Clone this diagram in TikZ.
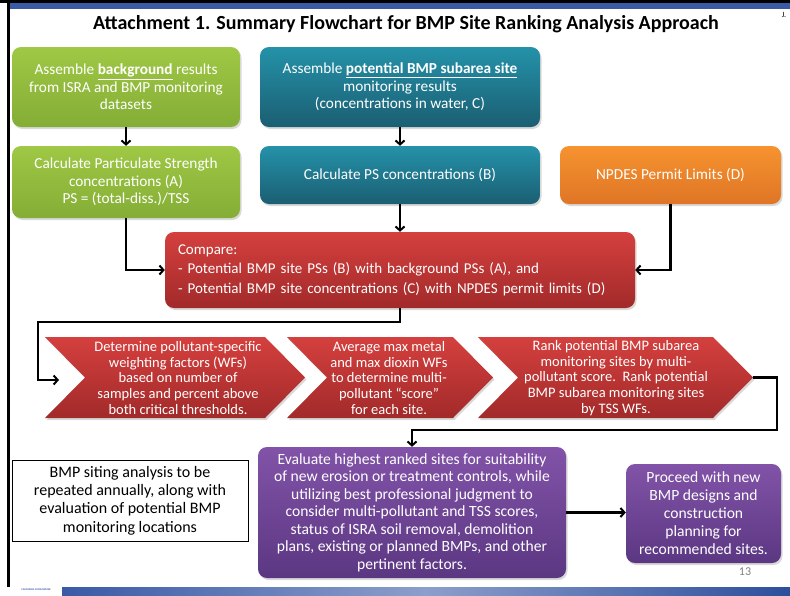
\documentclass[tikz,border=0pt]{standalone}
\usepackage{fontspec}
\setmainfont{Carlito}
\usetikzlibrary{arrows.meta,shadows}
\definecolor{grT}{HTML}{9FC845}
\definecolor{grB}{HTML}{84AD36}
\definecolor{tlT}{HTML}{2492A9}
\definecolor{tlB}{HTML}{1B5E72}
\definecolor{orT}{HTML}{F6932F}
\definecolor{orB}{HTML}{DF7526}
\definecolor{rdT}{HTML}{D4403E}
\definecolor{rdB}{HTML}{A22A2A}
\definecolor{puT}{HTML}{8253A8}
\definecolor{puB}{HTML}{5B3782}
\definecolor{barA}{HTML}{3A5AA6}
\definecolor{barM}{HTML}{8C9ECB}
\definecolor{barZ}{HTML}{2D4E9C}
\begin{document}
\begin{tikzpicture}[x=1pt,y=-1pt,
  font=\fontsize{15.3}{17.5}\selectfont,
  shad/.style={drop shadow={opacity=0.3,shadow xshift=1.5pt,shadow yshift=-2pt}},
  box/.style={rounded corners=9pt, text=white, align=center, inner sep=0pt, shad},
  green/.style={box, top color=grT, bottom color=grB},
  teal/.style={box, top color=tlT, bottom color=tlB},
  orange/.style={box, top color=orT, bottom color=orB},
  red/.style={box, top color=rdT, bottom color=rdB},
  purple/.style={box, top color=puT, bottom color=puB},
  chev/.style={shad, top color=rdT, bottom color=rdB},
  chevtext/.style={text=white, align=center, inner sep=0pt, font=\fontsize{14.5}{15.8}\selectfont},
  arr/.style={line width=2.2pt, -{Straight Barb[length=4pt,width=9pt,line width=2pt]}},
  ]
\useasboundingbox (0,0) rectangle (790,595);
% slide frame
\fill[black] (0,0) rectangle (790,3.3);
\fill[barA] (10,3.3) rectangle (790,9.3);
\fill[black] (7,0) rectangle (10,587);
\shade[left color=barA, right color=barZ, middle color=barM] (62,587) rectangle (790,595);
\node[text=barA, font=\fontsize{2.6}{3}\selectfont\bfseries, inner sep=0pt] (logo) at (36,590) {CALIFORNIA STORMWATER};
\node[font=\fontsize{8}{9}\selectfont, inner sep=0pt] (jj) at (784,15) {J.};

% title
\node[font=\fontsize{20}{23}\selectfont\bfseries] (title) at (406,24) {Attachment 1. Summary Flowchart for BMP Site Ranking Analysis Approach};

% top boxes
\node[green, minimum width=228pt, minimum height=80pt] (g1) at (126,87)
  {Assemble \underline{\textbf{background}} results\\ from ISRA and BMP monitoring\\ datasets};
\node[green, minimum width=228pt, minimum height=72pt] (g2) at (126,182)
  {Calculate Particulate Strength\\ concentrations (A)\\ PS = (total-diss.)/TSS};
\node[teal, minimum width=280pt, minimum height=80pt] (t1) at (400,87)
  {Assemble \underline{\textbf{potential BMP subarea site}}\\ monitoring results\\ (concentrations in water, C)};
\node[teal, minimum width=280pt, minimum height=58pt] (t2) at (400,175)
  {Calculate PS concentrations (B)};
\node[orange, minimum width=221pt, minimum height=58pt] (or) at (670.5,175)
  {NPDES Permit Limits (D)};

% compare
\node[red, minimum width=470pt, minimum height=76pt, text width=444pt, align=left, font=\fontsize{15}{19.5}\selectfont] (cmp) at (400,270)
  {Compare:\\ - Potential BMP site PSs (B) with background PSs (A), and\\ - Potential BMP site concentrations (C) with NPDES permit limits (D)};

% chevrons
\path[chev] (45,337) -- (265,337) -- (305,377.5) -- (265,418) -- (45,418) -- (85,377.5) -- cycle;
\path[chev] (287,337) -- (453,337) -- (493,377.5) -- (453,418) -- (287,418) -- (327,377.5) -- cycle;
\path[chev] (478,337) -- (713,337) -- (753,377.5) -- (713,418) -- (478,418) -- (518,377.5) -- cycle;
\node[chevtext] (c1) at (178,378) {Determine pollutant-specific\\ weighting factors (WFs)\\ based on number of\\ samples and percent above\\ both critical thresholds.};
\node[chevtext] (c2) at (389,378) {Average max metal\\ and max dioxin WFs\\ to determine multi-\\ pollutant ``score''\\ for each site.};
\node[chevtext] (c3) at (616,378) {Rank potential BMP subarea\\ monitoring sites by multi-\\ pollutant score.\ \ Rank potential\\ BMP subarea monitoring sites\\ by TSS WFs.};

% bottom row
\node[draw=black, line width=0.8pt, fill=white, minimum width=236pt, minimum height=81pt, align=center, inner sep=0pt, font=\fontsize{16}{18.3}\selectfont] (note) at (130,500.5)
  {BMP siting analysis to be\\ repeated annually, along with\\ evaluation of potential BMP\\ monitoring locations};
\node[purple, minimum width=308pt, minimum height=131pt, font=\fontsize{15.6}{17.5}\selectfont] (p1) at (412,512.5)
  {Evaluate highest ranked sites for suitability\\ of new erosion or treatment controls, while\\ utilizing best professional judgment to\\ consider multi-pollutant and TSS scores,\\ status of ISRA soil removal, demolition\\ plans, existing or planned BMPs, and other\\ pertinent factors.};
\node[purple, minimum width=155pt, minimum height=99pt, font=\fontsize{15.6}{18}\selectfont] (p2) at (703.5,513.5)
  {Proceed with new\\ BMP designs and\\ construction\\ planning for\\ recommended sites.};
\node[text=gray, font=\fontsize{12}{14}\selectfont, inner sep=0pt] (pg) at (745,572) {13};

% connectors
\coordinate (lft) at (38,322);
\coordinate (c1in) at (59,380);
\coordinate (c3tip) at (753,377.5);
\coordinate (rt) at (777,430);
\draw[arr] (g1.south) -- (g2.north);
\draw[arr] (t1.south) -- (t2.north);
\draw[arr] (t2.south) -- (cmp.north);
\draw[arr] (g2.south) |- (cmp.west);
\draw[arr] (or.south) |- (cmp.east);
\draw[arr] (cmp.south) |- (lft) |- (c1in);
\draw[arr] (c3tip) -| (rt) -| (p1.north);
\draw[arr] (p1.east) -- (p1.east -| p2.west);
\end{tikzpicture}
\end{document}
